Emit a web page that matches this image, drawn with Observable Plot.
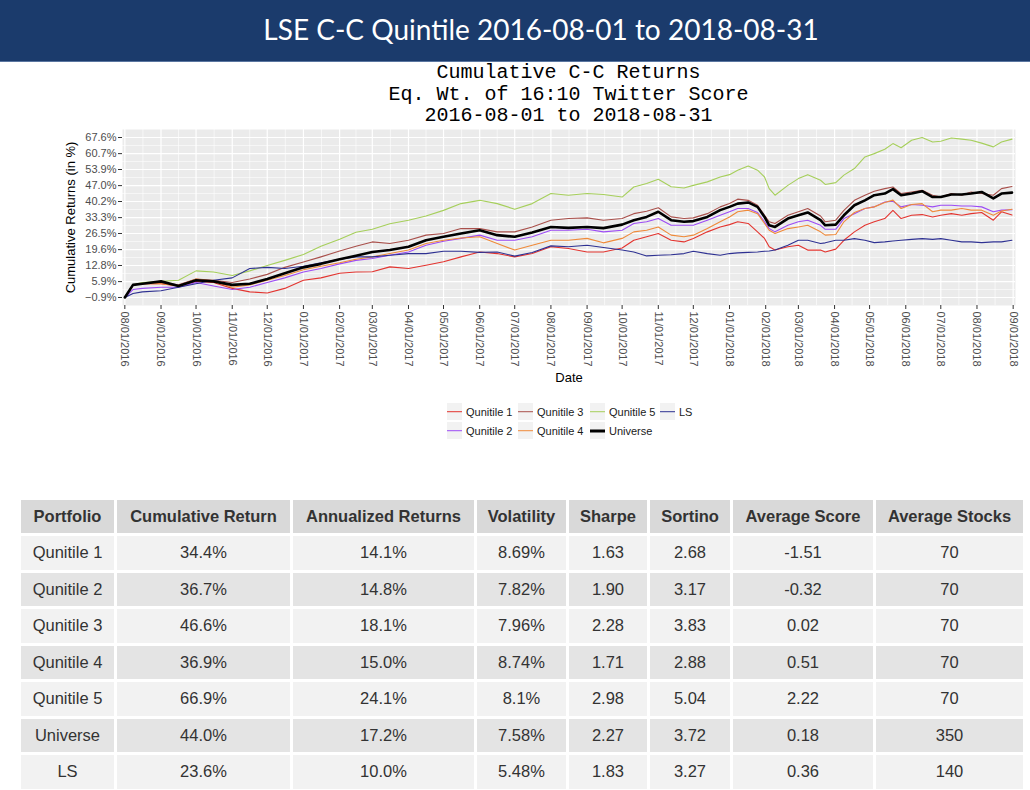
<!DOCTYPE html>
<html><head><meta charset="utf-8">
<script src="https://cdn.jsdelivr.net/npm/d3@7"></script>
<script src="https://cdn.jsdelivr.net/npm/@observablehq/plot@0.6"></script>
<style>
body{margin:0;background:#fff;width:1030px;height:790px;position:relative;overflow:hidden;font-family:"Liberation Sans",Arial,sans-serif;}
#hdr{position:absolute;left:0;top:0;width:1030px;height:61px;background:#1b3b6c;border-bottom:1px solid #5a76a0;}
#hdr div{position:absolute;left:0;top:0;width:1082px;text-align:center;line-height:58px;color:#fff;font-family:Lato,"Open Sans",sans-serif;font-size:28px;}
#sub{position:absolute;left:122px;width:893px;top:62px;text-align:center;font-family:"Liberation Mono","DejaVu Sans Mono",monospace;font-size:20px;line-height:21.5px;color:#000;}
#chart{position:absolute;left:0;top:125px;}
#legend{position:absolute;left:447px;top:402px;display:grid;grid-template-rows:19px 19px;grid-auto-flow:column;grid-template-columns:71px 72px 70px 40px;font-size:11px;color:#1a1a1a;}
.item{display:flex;align-items:center;height:19px;}
.key{width:15px;height:17px;background:#f2f2f2;position:relative;margin-right:4px;}
.key span{position:absolute;left:0;right:0;top:50%;transform:translateY(-50%);}
#tbl{position:absolute;left:18px;top:497px;border-collapse:separate;border-spacing:3px;font-size:16.5px;color:#333;}
#tbl th,#tbl td{text-align:center;padding:0;}
#tbl th{background:#d9d9d9;height:33px;font-weight:bold;}
#tbl td{height:33.5px;}
#tbl tr.odd td{background:#f2f2f2;}
#tbl tr.even td{background:#e4e4e4;}
</style></head>
<body>
<div id="hdr"><div>LSE C-C Quintile 2016-08-01 to 2018-08-31</div></div>
<div id="sub">Cumulative C-C Returns<br>Eq. Wt. of 16:10 Twitter Score<br>2016-08-01 to 2018-08-31</div>
<div id="chart"></div>
<div id="legend"></div>
<table id="tbl"></table>
<script>
const series = ["Qunitile 1","Qunitile 2","Qunitile 3","Qunitile 4","Qunitile 5","Universe","LS"];
const seriesColors = ["#e3342f","#9d4cf5","#a9504b","#ef8a3a","#a6cf5b","#000000","#2e3192"];

const dates = ["2016-08-01","2016-08-08","2016-08-16","2016-09-01","2016-09-16","2016-10-01","2016-10-16","2016-11-01","2016-11-16","2016-12-01","2016-12-16","2017-01-01","2017-01-16","2017-02-01","2017-02-15","2017-03-01","2017-03-16","2017-04-01","2017-04-16","2017-05-01","2017-05-16","2017-06-01","2017-06-16","2017-07-01","2017-07-16","2017-08-01","2017-08-16","2017-09-01","2017-09-15","2017-10-01","2017-10-11","2017-10-22","2017-11-01","2017-11-12","2017-11-23","2017-12-01","2017-12-13","2017-12-24","2018-01-01","2018-01-08","2018-01-17","2018-01-25","2018-01-31","2018-02-04","2018-02-09","2018-02-20","2018-03-01","2018-03-09","2018-03-20","2018-03-24","2018-04-02","2018-04-09","2018-04-18","2018-04-27","2018-05-05","2018-05-14","2018-05-21","2018-05-28","2018-06-06","2018-06-15","2018-06-24","2018-07-01","2018-07-10","2018-07-19","2018-07-27","2018-08-05","2018-08-15","2018-08-22","2018-08-31"];

const q1 = [-0.9,4.5,5.0,5.0,4.0,6.0,5.5,3.0,1.5,1.0,3.0,6.5,7.5,9.5,10.0,
  10.1,12.2,11.5,12.9,14.4,16.5,18.6,17.9,16.5,17.9,20.8,20.1,18.6,18.6,
  20.3,23.6,25.1,26.5,23.6,22.9,24.4,27.2,29.3,30.3,31.5,30.8,27.2,24.4,20.8,19.4,20.8,21.5,19.4,
  19.4,18.6,19.8,23.6,27.2,30.0,31.5,32.9,36.4,32.9,34.3,34.6,33.6,34.3,35.0,34.3,35.0,35.5,32.2,35.8,34.4];
const q2 = [-0.9,2.5,3.0,3.5,3.5,5.5,4.0,2.5,3.5,5.5,7.5,10.0,11.5,13.5,15.0,
  15.8,17.2,18.6,21.5,23.2,24.4,25.8,23.6,23.6,25.1,27.9,27.9,28.3,27.2,
  27.9,30.8,31.5,32.9,30.0,30.0,30.0,32.2,34.3,35.8,37.2,37.2,35.5,31.5,28.6,27.2,30.0,31.5,32.2,
  30.0,28.3,28.3,32.9,35.0,37.2,37.9,40.0,40.3,37.9,38.9,38.6,37.9,38.6,38.6,38.3,38.3,37.9,35.8,36.5,36.7];
const q3 = [-0.9,4.5,5.0,5.5,4.5,7.0,6.5,5.5,7.0,9.0,12.0,14.3,16.5,19.0,21.0,
  22.9,22.2,23.6,25.8,26.5,28.6,28.6,27.2,27.2,29.3,32.2,32.9,33.2,32.2,
  32.9,35.0,36.0,37.5,33.6,32.9,33.2,35.0,37.9,39.3,41.2,40.7,38.6,34.3,31.5,30.8,34.3,35.8,37.2,
  34.0,31.5,32.2,36.4,40.7,42.9,44.6,45.7,46.4,43.6,44.3,45.0,42.9,42.1,43.6,42.9,44.3,43.6,42.9,45.7,46.6];
const q4 = [-0.9,4.5,5.0,5.0,4.0,7.0,6.0,3.5,4.5,6.5,8.5,11.0,12.5,14.0,15.5,
  16.5,17.9,19.4,22.2,23.6,24.6,25.1,22.2,19.4,21.5,23.6,23.6,24.4,22.5,
  24.4,27.2,27.9,29.3,25.8,25.1,25.8,28.6,31.5,33.6,35.8,36.5,35.0,30.8,27.9,26.5,28.6,29.3,30.0,
  27.2,25.8,26.1,31.5,35.5,37.2,37.9,39.8,40.8,37.2,38.9,39.3,35.8,36.5,36.5,37.2,36.5,36.5,34.3,36.1,36.9];
const q5 = [-0.9,4.5,5.5,6.0,6.5,10.5,10.0,8.5,10.5,12.8,15.0,17.5,21.0,24.0,27.0,
  28.3,30.7,32.2,34.0,36.4,39.3,40.7,39.3,36.9,39.3,43.6,42.9,43.6,43.2,
  42.1,46.4,47.9,49.7,46.5,46.0,47.1,48.6,50.7,51.7,53.6,55.4,53.6,50.7,45.7,42.9,47.1,50.0,51.7,
  49.3,47.5,48.3,51.5,54.3,59.3,60.7,62.6,65.0,63.2,66.4,67.6,65.7,66.0,67.4,66.9,66.4,65.2,63.6,65.7,66.9];
const universe = [-0.9,4.5,5.0,6.0,4.0,6.5,6.0,4.5,5.0,7.0,9.5,12.0,13.5,15.5,17.0,
  18.6,19.4,20.8,23.6,25.1,26.5,27.9,25.8,25.1,26.9,29.3,28.9,29.3,28.8,
  30.3,32.2,33.6,35.8,32.2,31.5,31.8,33.6,36.5,37.9,39.3,39.8,37.9,33.6,30.0,29.3,32.9,34.3,35.5,
  32.2,30.0,30.3,34.3,38.6,40.7,42.9,43.6,45.5,42.9,43.6,44.6,42.1,42.1,43.2,43.2,43.6,44.3,41.5,43.6,44.0];
const ls = [-0.9,0.8,1.5,2.0,3.5,5.0,6.5,7.5,11.5,12.0,11.5,12.5,14.0,15.5,16.5,
  16.5,17.2,17.9,17.9,18.9,18.9,18.4,18.6,16.8,18.4,21.2,20.8,21.5,20.5,
  19.4,18.6,16.9,17.2,17.4,17.9,18.9,17.9,17.2,17.9,18.2,18.4,18.6,18.9,19.0,19.4,21.5,23.6,23.6,
  22.2,22.5,23.6,23.6,24.3,23.6,22.6,22.9,23.3,23.6,24.0,24.3,24.0,24.3,23.6,22.9,22.9,22.6,22.9,22.9,23.6];

const yTicks = [-0.9,5.9,12.8,19.6,26.5,33.3,40.2,47.0,53.9,60.7,67.6];
const xTitle = "Date";
const yTitle = "Cumulative Returns (in %)";

const portfolios = ["Qunitile 1","Qunitile 2","Qunitile 3","Qunitile 4","Qunitile 5","Universe","LS"];
const cumulativeReturn = ["34.4%","36.7%","46.6%","36.9%","66.9%","44.0%","23.6%"];
const annualizedReturns = ["14.1%","14.8%","18.1%","15.0%","24.1%","17.2%","10.0%"];
const volatility = ["8.69%","7.82%","7.96%","8.74%","8.1%","7.58%","5.48%"];
const sharpe = ["1.63","1.90","2.28","1.71","2.98","2.27","1.83"];
const sortino = ["2.68","3.17","3.83","2.88","5.04","3.72","3.27"];
const averageScore = ["-1.51","-0.32","0.02","0.51","2.22","0.18","0.36"];
const averageStocks = ["70","70","70","70","70","350","140"];
const tableHeaders = ["Portfolio","Cumulative Return","Annualized Returns","Volatility","Sharpe","Sortino","Average Score","Average Stocks"];

const parse = d3.utcParse("%Y-%m-%d");
const seriesValues = [q1,q2,q3,q4,q5,universe,ls];
const rows = [];
series.forEach((s,i) => dates.forEach((d,j) => rows.push({series:s, date:parse(d), value:seriesValues[i][j]})));

const xTicks = d3.utcMonth.range(parse("2016-08-01"), parse("2018-09-02"));
const xMinor = d3.pairs(xTicks).map(([a,b]) => new Date((+a + +b)/2));
const yMinor = d3.pairs(yTicks).map(([a,b]) => (a+b)/2);

const chart = Plot.plot({
  width: 1030, height: 265,
  marginTop: 4, marginBottom: 85, marginLeft: 122, marginRight: 15,
  style: {fontFamily: "'Liberation Sans', Arial, sans-serif", fontSize: "11px", color: "#4d4d4d", background: "transparent", overflow: "visible"},
  x: {type: "utc", domain: [parse("2016-07-30"), parse("2018-09-03")]},
  y: {domain: [-4.33, 71.03]},
  color: {domain: series, range: seriesColors},
  marks: [
    Plot.frame({fill: "#ebebeb", stroke: "none"}),
    Plot.ruleX(xMinor, {stroke: "#fff", strokeWidth: 0.6}),
    Plot.ruleY(yMinor, {stroke: "#fff", strokeWidth: 0.6}),
    Plot.ruleX(xTicks, {stroke: "#fff", strokeWidth: 1.2}),
    Plot.ruleY(yTicks, {stroke: "#fff", strokeWidth: 1.2}),
    Plot.axisX({ticks: xTicks, tickFormat: d3.utcFormat("%m/%d/%Y"), tickRotate: 90, tickSize: 4, tickPadding: 2, stroke: "#333", fill: "#4d4d4d", label: null}),
    Plot.axisY({ticks: yTicks, tickFormat: d => (d < 0 ? "\u2212" : "") + Math.abs(d).toFixed(1) + "%", tickSize: 4, tickPadding: 2, stroke: "#333", fill: "#4d4d4d", label: null}),
    Plot.text([xTitle], {frameAnchor: "bottom", dy: 76, fontSize: 13, fill: "#000"}),
    Plot.text([yTitle], {frameAnchor: "left", dx: -52, rotate: -90, textAnchor: "middle", lineAnchor: "middle", fontSize: 13, fill: "#000"}),
    Plot.line(rows.filter(r => r.series !== "Universe"), {x: "date", y: "value", z: "series", stroke: "series", strokeWidth: 1.1}),
    Plot.line(rows.filter(r => r.series === "Universe"), {x: "date", y: "value", stroke: "series", strokeWidth: 2.6})
  ]
});
document.getElementById("chart").appendChild(chart);

// legend (column-wise fill, 2 rows)
const legend = document.getElementById("legend");
series.forEach((s,i) => {
  const it = document.createElement("div"); it.className = "item";
  const k = document.createElement("div"); k.className = "key";
  const ln = document.createElement("span");
  ln.style.height = (s === "Universe" ? 3 : 1.6) + "px";
  ln.style.background = seriesColors[i];
  k.appendChild(ln); it.appendChild(k);
  const t = document.createElement("span"); t.textContent = s; it.appendChild(t);
  legend.appendChild(it);
});

// table
const tbl = document.getElementById("tbl");
const colWidths = [93,173,181,89,78,80,140,147];
const cg = document.createElement("colgroup");
colWidths.forEach(w => { const c = document.createElement("col"); c.style.width = w + "px"; cg.appendChild(c); });
tbl.appendChild(cg);
const hr = document.createElement("tr");
tableHeaders.forEach(h => { const th = document.createElement("th"); th.textContent = h; hr.appendChild(th); });
tbl.appendChild(hr);
const cols = [portfolios, cumulativeReturn, annualizedReturns, volatility, sharpe, sortino, averageScore, averageStocks];
portfolios.forEach((p,i) => {
  const tr = document.createElement("tr"); tr.className = i % 2 === 0 ? "odd" : "even";
  cols.forEach(c => { const td = document.createElement("td"); td.textContent = c[i]; tr.appendChild(td); });
  tbl.appendChild(tr);
});
</script>
</body></html>
